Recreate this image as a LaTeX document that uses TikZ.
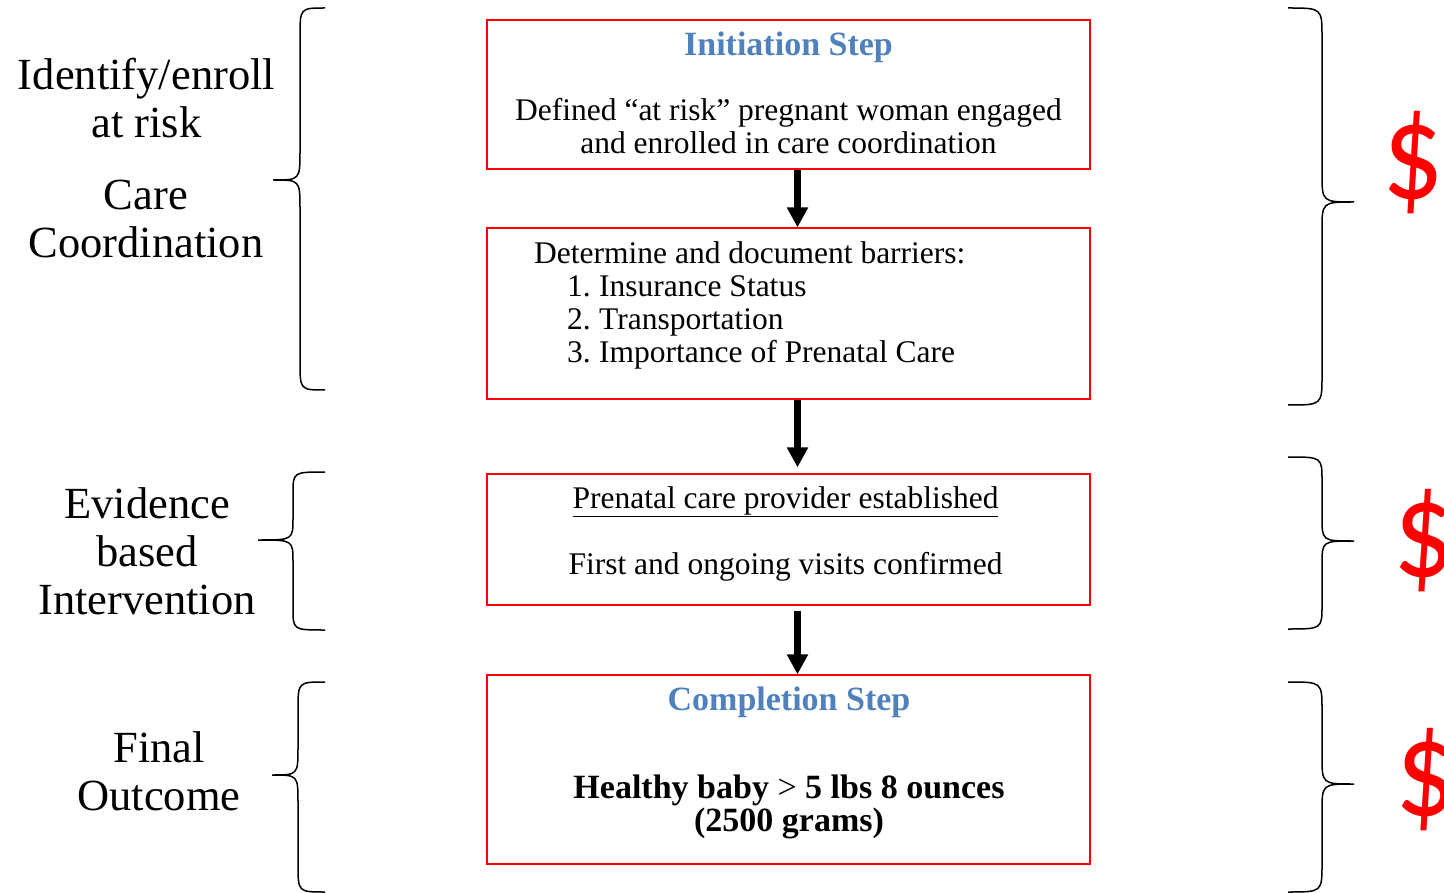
\documentclass[tikz,border=0pt]{standalone}
\usepackage{fontspec}
\setmainfont{Liberation Serif}
\newfontfamily\usdfont{Carlito}
\usepackage{tikz}
\usetikzlibrary{arrows.meta,positioning,calc}
\definecolor{hdblue}{HTML}{4F81BD}
\newcommand{\boxfont}{\fontsize{31.5}{33}\selectfont}
\newcommand{\sidefont}{\fontsize{44.5}{48}\selectfont}
\newcommand{\usd}{\scalebox{0.88}[1]{\$}}
% curly brace: x of ends, x of spine, x of point, y top, y point, y bottom, bend
\newcommand{\curly}[7]{%
  \draw[brc] (#1,#4) .. controls (#2,#4) .. (#2,{#4+#7}) -- (#2,{#5-#7})
    .. controls (#2,#5) .. (#3,#5) .. controls (#2,#5) .. (#2,{#5+#7})
    -- (#2,{#6-#7}) .. controls (#2,#6) .. (#1,#6);}
\tikzset{
  >={Triangle[width=20pt,length=20pt]},
  stepbox/.style={rectangle, draw=red, line width=1.2pt, inner sep=0pt},
  hd/.style     ={font=\fontsize{34}{36}\selectfont\bfseries, text=hdblue,
                  anchor=base, inner sep=0pt},
  body/.style   ={font=\boxfont, align=center, inner sep=0pt},
  side/.style   ={font=\sidefont, align=center, inner sep=0pt},
  pay/.style    ={font=\usdfont\fontsize{138}{138}\selectfont, text=red,
                  anchor=west, inner sep=0pt},
  con/.style    ={->, draw, line width=6.5pt},
  brc/.style    ={line width=1.5pt},
}
\begin{document}
\begin{tikzpicture}[x=1pt,y=-1pt]
\useasboundingbox (0,0) rectangle (1444,893);
% steps
\node[stepbox, minimum width=603pt, minimum height=149pt] (init) at (788.5,94.5) {};
\node[stepbox, minimum width=603pt, minimum height=171pt] (barr) at (788.5,313.5) {};
\node[stepbox, minimum width=603pt, minimum height=131pt] (prov) at (788.5,539.5) {};
\node[stepbox, minimum width=603pt, minimum height=189pt] (done) at (788.5,769.5) {};
\node[hd]   (initH) at (788.5,56) {Initiation Step};
\node[body] (initT) at (788.5,126.5) {Defined “at risk” pregnant woman engaged\\and enrolled in care coordination};
\node[body, align=left, anchor=west] (barrT) at (534,305)
  {Determine and document barriers:\\
   \hspace*{33pt}\makebox[32pt][l]{1.}Insurance Status\\
   \hspace*{33pt}\makebox[32pt][l]{2.}Transportation\\
   \hspace*{33pt}\makebox[32pt][l]{3.}Importance of Prenatal Care};
\node[body] (provT) at (785.5,533.6) {\underline{Prenatal care provider established}\\[33pt]First and ongoing visits confirmed};
\node[hd]   (doneH) at (789,710) {Completion Step};
\node[body, font=\fontsize{34}{33}\selectfont\bfseries] (doneT) at (789,807)
  {Healthy baby {\mdseries >} 5 lbs 8 ounces\\(2500 grams)};
\draw[con] ([xshift=9pt]init.south) -- ([xshift=9pt]barr.north);
\draw[con] ([xshift=9pt]barr.south) -- ([xshift=9pt,yshift=6pt]prov.north);
\draw[con] ([xshift=9pt,yshift=-5pt]prov.south) -- ([xshift=9pt]done.north);
% phases on the left
\node[side] (phA) at (146.5,98.5)  {Identify/enroll\\at risk};
\node[side] (phB) at (146,218.5)   {Care\\Coordination};
\node[side] (phC) at (147,551)     {Evidence\\based\\Intervention};
\node[side] (phD) at (159,771.5)   {Final\\Outcome};
\curly{325}{300}{273}{8}{180}{390}{29}
\curly{325}{293}{258}{472}{540}{630}{22}
\curly{325}{298}{272}{682}{775}{892}{28}
% payments on the right
\curly{1288}{1322}{1354}{8}{202}{405}{29}
\curly{1288}{1322}{1354}{457}{541}{629}{24}
\curly{1288}{1322}{1354}{682}{784}{892}{28}
\node[pay] (usdA) at (1382,163) {\usd};
\node[pay] (usdB) at (1393,541) {\usd};
\node[pay] (usdC) at (1395,779.5) {\usd};
\end{tikzpicture}
\end{document}
